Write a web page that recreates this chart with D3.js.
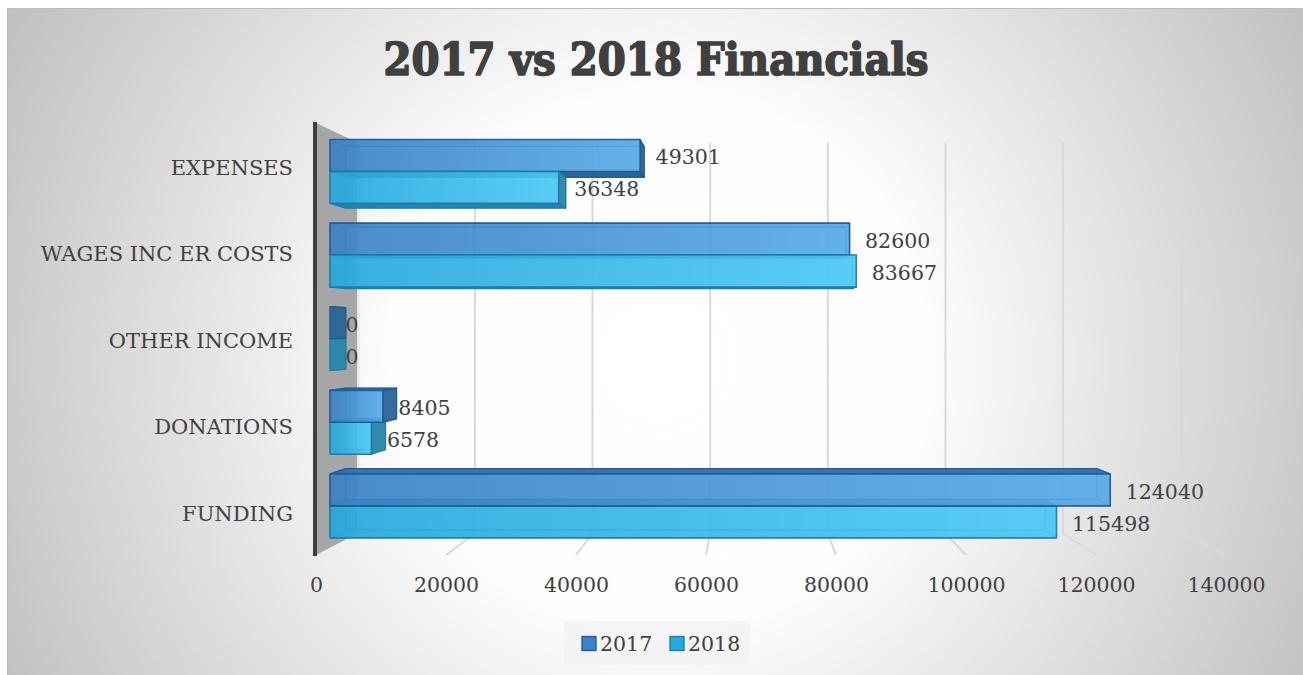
<!DOCTYPE html>
<html>
<head>
<meta charset="utf-8">
<script src="https://cdn.jsdelivr.net/npm/d3@7"></script>
<style>
  html, body { margin: 0; padding: 0; background: #ffffff; }
  svg { display: block; }
  text { font-family: "DejaVu Serif", serif; fill: #404040; }
</style>
</head>
<body>
<svg id="chart" width="1303" height="675"></svg>
<script>
// Financial summary, two years side by side
const categories = ["EXPENSES", "WAGES INC ER COSTS", "OTHER INCOME", "DONATIONS", "FUNDING"];
const seriesNames = ["2017", "2018"];
const values2017 = [49301, 82600, 0, 8405, 124040];
const values2018 = [36348, 83667, 0, 6578, 115498];
const tickValues = [0, 20000, 40000, 60000, 80000, 100000, 120000, 140000];
const titleText = "2017 vs 2018 Financials";

const svg = d3.select("#chart");
const defs = svg.append("defs");

// chart area background: soft radial shading
const bg = defs.append("radialGradient").attr("id", "bgGrad")
  .attr("gradientUnits", "userSpaceOnUse")
  .attr("cx", 660).attr("cy", 360).attr("r", 760);
bg.append("stop").attr("offset", 0).attr("stop-color", "#ffffff");
bg.append("stop").attr("offset", 0.35).attr("stop-color", "#fdfdfd");
bg.append("stop").attr("offset", 1).attr("stop-color", "#bdbdbd");

svg.append("rect").attr("x", 7.5).attr("y", 8.5).attr("width", 1300).attr("height", 670)
  .attr("fill", "url(#bgGrad)").attr("stroke", "#bcbcbc").attr("stroke-width", 1);

// title (heavy slab face)
svg.append("text")
  .attr("x", 656).attr("y", 75)
  .attr("text-anchor", "middle")
  .attr("textLength", 545).attr("lengthAdjust", "spacingAndGlyphs")
  .style("font-family", "'DejaVu Serif Condensed', 'DejaVu Serif', serif")
  .style("font-weight", "bold").style("font-size", "45px")
  .attr("stroke", "#404040").attr("stroke-width", 1.6).attr("stroke-linejoin", "round")
  .text(titleText);

// front-plane scales
const x = d3.scaleLinear().domain([0, 140000]).range([316, 1226]);
const y = d3.scaleBand().domain(categories).range([123, 555])
  .paddingInner(0.236).paddingOuter(0.118);
const ySub = d3.scaleBand().domain(seriesNames).range([0, y.bandwidth()]);
// perspective shrink factor by depth (0 = front edge, 1 = back wall)
const depth = d3.scaleLinear().domain([0, 1]).range([1, 0.905]);
const VP = [750, 329];
function proj(px, py, z) {
  const s = depth(z);
  return [VP[0] + (px - VP[0]) * s, VP[1] + (py - VP[1]) * s];
}
const BAR_Z0 = 0.34, BAR_Z1 = 0.72;
const [yTop, yBottom] = y.range();

// back-wall gridlines and floor lines
const grid = svg.append("g").attr("stroke", "#d9d9d9").attr("stroke-width", 2).attr("fill", "none");
tickValues.filter(v => v > 0).forEach(v => {
  const a = proj(x(v), yTop, 1), b = proj(x(v), yBottom, 1), c = proj(x(v), yBottom, 0);
  grid.append("path").attr("d", d3.line()([a, b, c]));
});

// side wall
const wallPts = [proj(x(0), yTop, 0), proj(x(0), yTop, 1), proj(x(0), yBottom, 1), proj(x(0), yBottom, 0)];
svg.append("path").attr("d", d3.line()(wallPts) + "Z").attr("fill", "#a6a6a6");
const wallBack = [proj(x(0), yTop, 1), proj(x(0), yBottom, 1)];
svg.append("line")
  .attr("x1", wallBack[0][0] + 1.5).attr("y1", wallBack[0][1]).attr("x2", wallBack[1][0] + 1.5).attr("y2", wallBack[1][1])
  .attr("stroke", "#ececec").attr("stroke-width", 3);
svg.append("line")
  .attr("x1", x(0) - 1).attr("y1", yTop - 1).attr("x2", x(0) - 1).attr("y2", yBottom + 1)
  .attr("stroke", "#3f3f3f").attr("stroke-width", 4);

// colours per series
const palette = {
  "2017": { left: "#3a83c5", right: "#58ace8", top: "#2f70ad", bottom: "#255f95", side: "#2d6699", back: "#3f86c6", stroke: "#1d5a91" },
  "2018": { left: "#26a9dd", right: "#4ccaf7", top: "#2093c4", bottom: "#1d7fae", side: "#2a87a8", back: "#2aa6d8", stroke: "#1a7caa" }
};
seriesNames.forEach(s => {
  const g = defs.append("linearGradient").attr("id", "front" + s)
    .attr("x1", 0).attr("x2", 1).attr("y1", 0).attr("y2", 0);
  g.append("stop").attr("offset", 0).attr("stop-color", palette[s].left);
  g.append("stop").attr("offset", 1).attr("stop-color", palette[s].right);
});

// bar records
const bars = [];
categories.forEach((cat, i) => {
  bars.push({ cat, series: "2017", value: values2017[i] });
  bars.push({ cat, series: "2018", value: values2018[i] });
});
bars.forEach(b => {
  b.y0 = y(b.cat) + ySub(b.series);
  b.y1 = b.y0 + ySub.bandwidth();
  b.dist = Math.abs((b.y0 + b.y1) / 2 - VP[1]);
});
// paint bars farther from the eye line first
bars.sort((a, b) => b.dist - a.dist);

const barLayer = svg.append("g");
bars.forEach(b => {
  const xs = [x(0), x(b.value)], ys = [b.y0, b.y1], zs = [BAR_Z0, BAR_Z1];
  const c = (i, j, k) => proj(xs[i], ys[j], zs[k]);
  const col = palette[b.series];
  const faces = [
    { pts: [c(0,0,1), c(1,0,1), c(1,1,1), c(0,1,1)], fill: col.back, vis: false },
    { pts: [c(0,0,0), c(0,0,1), c(0,1,1), c(0,1,0)], fill: col.side, vis: xs[0] > VP[0] },
    { pts: [c(1,0,0), c(1,0,1), c(1,1,1), c(1,1,0)], fill: col.side, vis: xs[1] < VP[0] },
    { pts: [c(0,0,0), c(1,0,0), c(1,0,1), c(0,0,1)], fill: col.top, vis: ys[0] > VP[1] },
    { pts: [c(0,1,0), c(1,1,0), c(1,1,1), c(0,1,1)], fill: col.bottom, vis: ys[1] < VP[1] },
  ];
  const g = barLayer.append("g").attr("stroke", col.stroke).attr("stroke-linejoin", "round");
  faces.filter(f => !f.vis).forEach(f => {
    g.append("path").attr("d", d3.line()(f.pts) + "Z")
      .attr("fill", f.fill).attr("fill-opacity", 0.35)
      .attr("stroke-width", 1).attr("stroke-opacity", 0.6);
  });
  faces.filter(f => f.vis).forEach(f => {
    g.append("path").attr("d", d3.line()(f.pts) + "Z")
      .attr("fill", f.fill).attr("fill-opacity", 0.95)
      .attr("stroke-width", 1.3).attr("stroke-opacity", 0.9);
  });
  if (b.value > 0) {
    g.append("path").attr("d", d3.line()([c(0,0,0), c(1,0,0), c(1,1,0), c(0,1,0)]) + "Z")
      .attr("fill", "url(#front" + b.series + ")").attr("fill-opacity", 0.88)
      .attr("stroke-width", 1.6).attr("stroke-opacity", 0.9);
  }
  // value label just past the bar end
  const lp = proj(x(b.value) + 16, (b.y0 + b.y1) / 2 + 2, BAR_Z0);
  svg.append("text")
    .attr("x", lp[0]).attr("y", lp[1])
    .attr("dominant-baseline", "central")
    .style("font-size", "20.5px")
    .text(b.value);
});

// value axis along the floor's front edge
const xAxis = svg.append("g").attr("transform", "translate(0,577)")
  .call(d3.axisBottom(x).tickValues(tickValues).tickSize(0).tickPadding(0).tickFormat(d3.format("d")));
xAxis.select(".domain").remove();
xAxis.selectAll("text").style("font-size", "20.5px").style("font-family", "'DejaVu Serif', serif").attr("fill", "#404040");

// category axis
const yAxis = svg.append("g").attr("transform", "translate(293,2)")
  .call(d3.axisLeft(y).tickSize(0).tickPadding(0));
yAxis.select(".domain").remove();
yAxis.selectAll("text").style("font-size", "21px").style("font-family", "'DejaVu Serif', serif").attr("fill", "#404040");

// legend
const legend = svg.append("g");
legend.append("rect").attr("x", 564).attr("y", 621).attr("width", 186).attr("height", 44)
  .attr("fill", "#f2f2f2").attr("fill-opacity", 0.8);
const legendX = d3.scalePoint().domain(seriesNames).range([582, 670]);
seriesNames.forEach(s => {
  legend.append("rect").attr("x", legendX(s)).attr("y", 636.5).attr("width", 14).attr("height", 14)
    .attr("fill", palette[s].left).attr("stroke", palette[s].stroke).attr("stroke-width", 1.3);
  legend.append("text").attr("x", legendX(s) + 18).attr("y", 643.5)
    .attr("dominant-baseline", "central").style("font-size", "20.5px").text(s);
});
</script>
</body>
</html>
